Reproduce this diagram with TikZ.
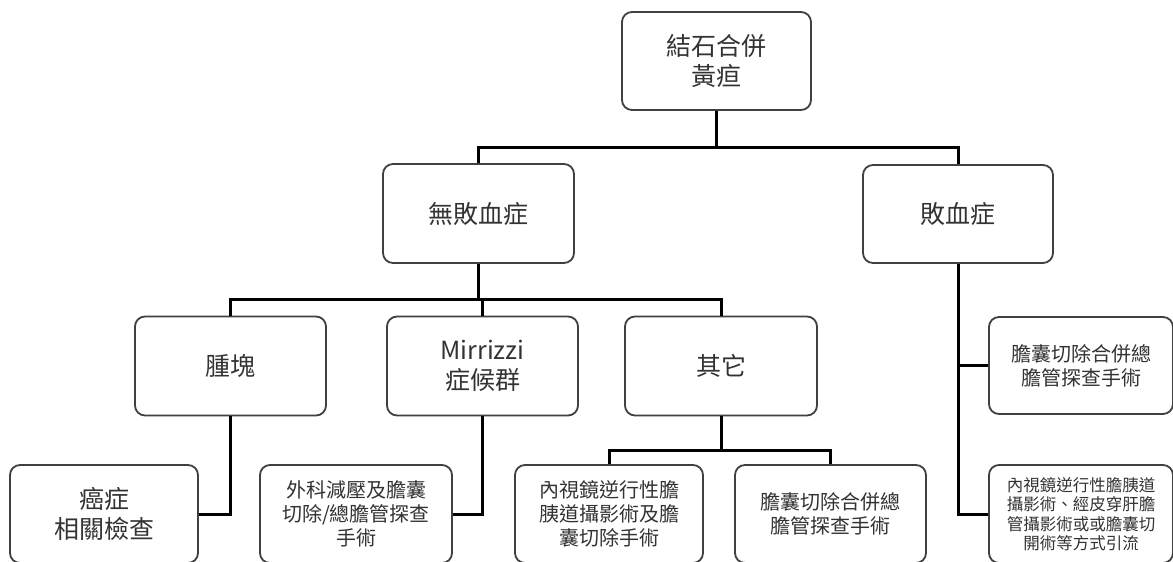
\documentclass[tikz,border=0pt]{standalone}
\usepackage{fontspec}
\setmainfont{Noto Sans CJK TC}
\definecolor{boxc}{HTML}{404040}
\definecolor{textc}{HTML}{333333}
\tikzset{
  box/.style={draw=boxc, line width=1.8pt, rounded corners=10pt, align=center,
    inner sep=0pt, text=textc, fill=white},
  big/.style={font=\fontsize{25}{30}\selectfont},
  mid/.style={font=\fontsize{20}{24}\selectfont},
  small/.style={font=\fontsize{16.5}{19.5}\selectfont},
  conn/.style={draw=black, line width=3pt},
}
\begin{document}
\begin{tikzpicture}[x=1pt,y=-1pt]
\useasboundingbox[fill=white] (0,0) rectangle (1173,562);
% level 0
\node[box,big,minimum width=189pt,minimum height=98pt] (root) at (716.5,61) {結石合併\\黃疸};
% level 1
\node[box,big,minimum width=191pt,minimum height=99pt] (nosep) at (478.5,213.5) {無敗血症};
\node[box,big,minimum width=190pt,minimum height=98pt] (sep) at (958,214) {敗血症};
% level 2
\node[box,big,minimum width=191pt,minimum height=99pt] (mass) at (230.5,366) {腫塊};
\node[box,big,minimum width=191pt,minimum height=99pt] (mirr) at (482.5,366) {Mirrizzi\\症候群};
\node[box,big,minimum width=192pt,minimum height=99pt] (other) at (721,366) {其它};
% level 3
\node[box,big,minimum width=188pt,minimum height=98pt] (cancer) at (104,514) {癌症\\相關檢查};
\node[box,mid,minimum width=192pt,minimum height=98pt] (surg) at (356,514) {外科減壓及膽囊\\切除/總膽管探查\\手術};
\node[box,mid,minimum width=188pt,minimum height=98pt] (ercp) at (609,514) {內視鏡逆行性膽\\胰道攝影術及膽\\囊切除手術};
\node[box,mid,minimum width=191pt,minimum height=98pt] (chole) at (830.5,514) {膽囊切除合併總\\膽管探查手術};
\node[box,mid,minimum width=184pt,minimum height=97pt] (rchole) at (1081,365.5) {膽囊切除合併總\\膽管探查手術};
\node[box,small,minimum width=184pt,minimum height=98pt] (rdrain) at (1081,514) {內視鏡逆行性膽胰道\\攝影術、經皮穿肝膽\\管攝影術或或膽囊切\\開術等方式引流};
% junctions
\coordinate (j1) at (716.5,147);
\coordinate (j2) at (478.5,299);
\coordinate (j3) at (721,450);
% connectors
\draw[conn] (root.south) -- (j1);
\draw[conn] (nosep.north) |- (j1) -| (sep.north);
\draw[conn] (nosep.south) -- (j2);
\draw[conn] (mass.north) |- (j2) -| (other.north);
\draw[conn] (mirr.north) -- (mirr.north |- j2);
\draw[conn] (mass.south) |- (cancer.east);
\draw[conn] (mirr.south) |- (surg.east);
\draw[conn] (other.south) -- (j3);
\draw[conn] (ercp.north) |- (j3) -| (chole.north);
\draw[conn] (sep.south) |- (rchole.west);
\draw[conn] (sep.south) |- (rdrain.west);
\end{tikzpicture}
\end{document}
